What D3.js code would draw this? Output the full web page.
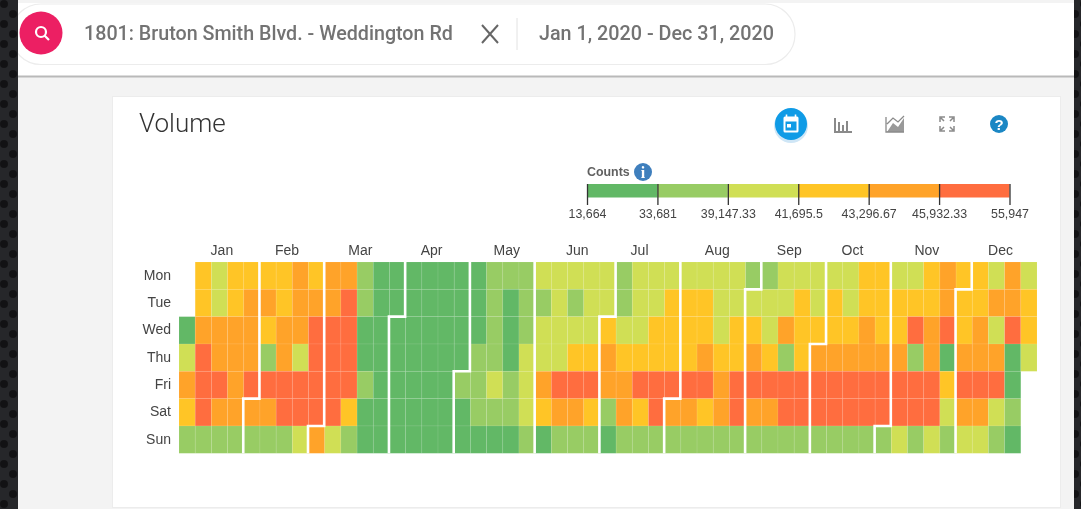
<!DOCTYPE html>
<html>
<head>
<meta charset="utf-8">
<title>Volume</title>
<script src="https://cdnjs.cloudflare.com/ajax/libs/d3/7.8.5/d3.min.js"></script>
<style>
html, body { margin: 0; padding: 0; background: #f3f3f3; overflow: hidden; }
svg { display: block; filter: blur(0.5px); }
text { font-family: "Liberation Sans", Arial, sans-serif; }
.head { font-family: Roboto, sans-serif; font-weight: 500; fill: #737373; }
.axis path { display: none; }
.axis line { stroke: #333; stroke-width: 1.3; }
.axis text { font-size: 12.4px; fill: #444; }
</style>
</head>
<body>
<svg id="chart" width="1081" height="509"></svg>
<script>
// daily counts in thousands, one list per weekday, one entry per calendar week of 2020
var mon = [null,42.5,40.5,42.5,42.5,42.5,42.5,44.5,42.5,44.5,44.5,36.5,25,25,25,25,25,25,25,36.5,36.5,36.5,40.5,40.5,40.5,40.5,40.5,36.5,40.5,40.5,40.5,40.5,40.5,40.5,40.5,36.5,36.5,40.5,40.5,40.5,40.5,40.5,42.5,42.5,40.5,40.5,42.5,44.5,42.5,42.5,40.5,44.5,40.5];
var tue = [null,42.5,40.5,42.5,44.5,44.5,42.5,44.5,44.5,44.5,48,36.5,25,25,25,25,25,25,25,36.5,25,36.5,36.5,40.5,36.5,40.5,40.5,36.5,40.5,40.5,42.5,42.5,42.5,40.5,40.5,40.5,40.5,40.5,42.5,40.5,42.5,40.5,42.5,42.5,42.5,42.5,42.5,44.5,42.5,42.5,44.5,44.5,42.5];
var wed = [25,44.5,44.5,44.5,44.5,42.5,44.5,44.5,48,48,48,25,25,25,25,25,25,25,25,36.5,25,36.5,40.5,40.5,40.5,40.5,42.5,40.5,40.5,42.5,42.5,42.5,42.5,40.5,42.5,42.5,40.5,44.5,42.5,42.5,42.5,42.5,44.5,42.5,42.5,48,44.5,48,42.5,44.5,40.5,48,42.5];
var thu = [40.5,48,44.5,44.5,44.5,36.5,44.5,40.5,48,48,48,25,25,25,25,25,25,25,36.5,36.5,25,40.5,40.5,40.5,42.5,42.5,44.5,42.5,42.5,42.5,42.5,42.5,44.5,42.5,42.5,44.5,42.5,36.5,42.5,44.5,44.5,44.5,44.5,44.5,44.5,36.5,44.5,25,44.5,44.5,44.5,25,40.5];
var fri = [44.5,48,48,44.5,48,48,48,48,48,48,48,36.5,25,25,25,25,25,36.5,36.5,40.5,36.5,40.5,44.5,48,48,48,44.5,44.5,48,48,48,48,48,44.5,48,48,48,48,48,48,48,48,48,48,48,48,48,42.5,48,48,48,25,null];
var sat = [42.5,48,44.5,44.5,44.5,44.5,48,48,48,48,42.5,25,25,25,25,25,25,25,36.5,36.5,36.5,40.5,42.5,44.5,44.5,42.5,36.5,44.5,42.5,48,44.5,44.5,42.5,44.5,48,44.5,44.5,48,48,48,48,48,48,48,48,48,48,40.5,44.5,44.5,40.5,36.5,null];
var sun = [36.5,36.5,36.5,36.5,36.5,36.5,36.5,40.5,44.5,40.5,36.5,25,25,25,25,25,25,25,25,25,25,36.5,25,36.5,36.5,36.5,25,36.5,36.5,36.5,36.5,36.5,36.5,36.5,36.5,36.5,36.5,36.5,36.5,36.5,36.5,36.5,36.5,36.5,40.5,36.5,40.5,36.5,40.5,40.5,36.5,25,null];

var weekdays = ["Mon", "Tue", "Wed", "Thu", "Fri", "Sat", "Sun"];
var months = ["Jan", "Feb", "Mar", "Apr", "May", "Jun", "Jul", "Aug", "Sep", "Oct", "Nov", "Dec"];
// week number each month label sits over
var monthLabelWeek = [2.65, 6.67, 11.2, 15.6, 20.25, 24.6, 28.45, 33.25, 37.7, 41.6, 46.2, 50.75];
var legendBreaks = [13664, 33681, 39147.33, 41695.5, 43296.67, 45932.33, 55947];
var legendColors = ["#62b866", "#98cc64", "#d0df55", "#ffc526", "#ffa329", "#ff6d3f"];

var rows = [mon, tue, wed, thu, fri, sat, sun];
var svg = d3.select("#chart");

var pattern = svg.append("defs").append("pattern")
	.attr("id", "dots")
	.attr("width", 18)
	.attr("height", 20)
	.attr("patternUnits", "userSpaceOnUse");
pattern.append("rect").attr("width", 18).attr("height", 20).attr("fill", "#26272a");
pattern.append("circle").attr("cx", 4).attr("cy", 4).attr("r", 4).attr("fill", "#121214");
pattern.append("circle").attr("cx", 13).attr("cy", 14).attr("r", 4).attr("fill", "#121214");

// page furniture
svg.append("rect").attr("width", 1081).attr("height", 509).attr("fill", "#f3f3f3");
svg.append("rect").attr("x", 18).attr("y", 3).attr("width", 1056).attr("height", 73).attr("fill", "#fff");
svg.append("rect").attr("x", 18).attr("y", 75.5).attr("width", 1056).attr("height", 2).attr("fill", "#b9b9b9");
svg.append("rect").attr("x", 11).attr("y", 4).attr("width", 784).attr("height", 60.5).attr("rx", 30)
	.attr("fill", "#fff").attr("stroke", "#ececec").attr("stroke-width", 1.2);
svg.append("rect").attr("width", 18).attr("height", 509).attr("fill", "url(#dots)");
svg.append("rect").attr("x", 1074).attr("width", 7).attr("height", 509).attr("fill", "url(#dots)");
svg.append("circle").attr("cx", 41).attr("cy", 33).attr("r", 21.5).attr("fill", "#ec1f63");
svg.append("circle").attr("cx", 41).attr("cy", 32).attr("r", 5).attr("fill", "none").attr("stroke", "#fff").attr("stroke-width", 2.2);
svg.append("line").attr("x1", 44.5).attr("y1", 35.5).attr("x2", 49).attr("y2", 40).attr("stroke", "#fff").attr("stroke-width", 2.2);
svg.append("text").attr("class", "head").attr("x", 84).attr("y", 40).style("font-size", "19.7px").text("1801: Bruton Smith Blvd. - Weddington Rd");
svg.append("path").attr("d", "M482,25L498,43M498,25L482,43").attr("fill", "none").attr("stroke", "#666").attr("stroke-width", 2);
svg.append("line").attr("x1", 517).attr("y1", 18).attr("x2", 517).attr("y2", 50).attr("stroke", "#e2e2e2");
svg.append("text").attr("class", "head").attr("x", 539).attr("y", 40).style("font-size", "19.75px").text("Jan 1, 2020 - Dec 31, 2020");

svg.append("rect").attr("x", 112).attr("y", 96).attr("width", 949).attr("height", 412).attr("fill", "#ececec");
svg.append("rect").attr("x", 113).attr("y", 97).attr("width", 947).attr("height", 410).attr("fill", "#fff");
svg.append("text").attr("x", 139).attr("y", 132)
	.style("font-family", "Roboto, sans-serif").style("font-weight", 300).style("font-size", "26px").attr("fill", "#333")
	.text("Volume");

// toolbar icons
svg.append("circle").attr("cx", 791).attr("cy", 126).attr("r", 17).attr("fill", "#cfe6f6");
svg.append("circle").attr("cx", 791).attr("cy", 124).attr("r", 16).attr("fill", "#0f9be6");
svg.append("rect").attr("x", 783.5).attr("y", 116.5).attr("width", 15).attr("height", 16).attr("rx", 1.5).attr("fill", "#fff");
svg.append("rect").attr("x", 785.5).attr("y", 121.5).attr("width", 11).attr("height", 9).attr("fill", "#0f9be6");
svg.append("rect").attr("x", 787).attr("y", 124).attr("width", 4).attr("height", 3.5).attr("fill", "#fff");
svg.append("path").attr("d", "M786.5,114.5V118M795.5,114.5V118").attr("stroke", "#fff").attr("stroke-width", 1.6);
svg.append("path").attr("d", "M835,118V132H852M839,132V122M843,132V125M847,132V121").attr("fill", "none").attr("stroke", "#8a8a8a").attr("stroke-width", 2);
svg.append("path").attr("d", "M887,132L893,123L898,127L904,118V132Z").attr("fill", "#999");
svg.append("path").attr("d", "M886,117V132H904M887,124L893,118L898,122L904,116").attr("fill", "none").attr("stroke", "#8a8a8a").attr("stroke-width", 1.3);
svg.append("path").attr("d", "M940,122V117H945M949,117H954V122M940,126V131H945M949,131H954V126M941,118L944,121M953,118L950,121M941,130L944,127M953,130L950,127")
	.attr("fill", "none").attr("stroke", "#8a8a8a").attr("stroke-width", 1.5);
svg.append("circle").attr("cx", 999).attr("cy", 124).attr("r", 9).attr("fill", "#1b87c4");
svg.append("text").attr("x", 999).attr("y", 129.5).attr("text-anchor", "middle").attr("fill", "#fff")
	.style("font-size", "15px").style("font-weight", 700).text("?");

// legend
var legendX = d3.scalePoint().domain(legendBreaks).range([587, 1009.5]);
var legend = svg.append("g");
legend.selectAll("rect").data(legendColors).enter().append("rect")
	.attr("x", function(d, i){ return legendX(legendBreaks[i]); })
	.attr("y", 184)
	.attr("width", legendX.step())
	.attr("height", 13.5)
	.attr("fill", function(d){ return d; });
svg.append("g")
	.attr("class", "axis")
	.attr("transform", "translate(0,184)")
	.call(d3.axisBottom(legendX).tickSize(21).tickPadding(4).tickFormat(d3.format(",")));
svg.append("text").attr("x", 587).attr("y", 176).attr("fill", "#444").style("font-size", "12.4px").style("font-weight", 700).style("opacity", 0.85).text("Counts");
svg.append("circle").attr("cx", 643).attr("cy", 172).attr("r", 9).attr("fill", "#3f7fbd");
svg.append("text").attr("x", 643).attr("y", 178).attr("text-anchor", "middle").attr("fill", "#fff")
	.style("font-size", "16px").style("font-weight", 700).style("font-family", "Liberation Serif").text("i");

// calendar grid
var weekNums = d3.range(mon.length);
var x = d3.scaleBand().domain(weekNums).range([179, 1037]);
var y = d3.scaleBand().domain(weekdays).range([262, 453.3]);
var color = d3.scaleThreshold().domain(legendBreaks.slice(1, -1)).range(legendColors);

var days = d3.utcDays(new Date(Date.UTC(2020, 0, 1)), new Date(Date.UTC(2021, 0, 1)));
var firstMonday = d3.utcMonday.floor(days[0]);
function weekOf(date){ return d3.utcMonday.count(firstMonday, date); }
function dayOf(date){ return (date.getUTCDay() + 6) % 7; }

svg.append("g").selectAll("rect")
	.data(days)
	.enter().append("rect")
	.attr("x", function(d){ return x(weekOf(d)); })
	.attr("y", function(d){ return y(weekdays[dayOf(d)]); })
	.attr("width", x.bandwidth())
	.attr("height", y.bandwidth())
	.attr("fill", function(d){ return color(rows[dayOf(d)][weekOf(d)] * 1000); })
	.attr("stroke", "#fff")
	.attr("stroke-opacity", 0.1)
	.attr("stroke-width", 0.8);

// white step line at the start of every month after January
function monthPath(start){
	var w = x(weekOf(start)) - 0.5;
	var d = dayOf(start);
	var bw = x.bandwidth();
	var top = y.range()[0], bottom = y.range()[1];
	if(d === 0) return "M" + w + "," + top + "V" + bottom;
	return "M" + (w + bw) + "," + top + "V" + y(weekdays[d]) + "H" + w + "V" + bottom;
}
svg.append("g").selectAll("path")
	.data(d3.utcMonths(new Date(Date.UTC(2020, 1, 1)), new Date(Date.UTC(2021, 0, 1))))
	.enter().append("path")
	.attr("d", monthPath)
	.attr("fill", "none")
	.attr("stroke", "#fff")
	.attr("stroke-width", 2.6);

svg.append("g").selectAll("text").data(weekdays).enter().append("text")
	.attr("x", 171)
	.attr("y", function(d){ return y(d) + y.bandwidth() / 2 + 4; })
	.attr("text-anchor", "end")
	.attr("fill", "#444")
	.style("font-size", "14px")
	.text(function(d){ return d; });

var monthX = d3.scaleLinear().domain([0, mon.length]).range(x.range());
svg.append("g").selectAll("text").data(months).enter().append("text")
	.attr("x", function(d, i){ return monthX(monthLabelWeek[i]); })
	.attr("y", 255)
	.attr("text-anchor", "middle")
	.attr("fill", "#444")
	.style("font-size", "14px")
	.text(function(d){ return d; });
</script>
</body>
</html>
